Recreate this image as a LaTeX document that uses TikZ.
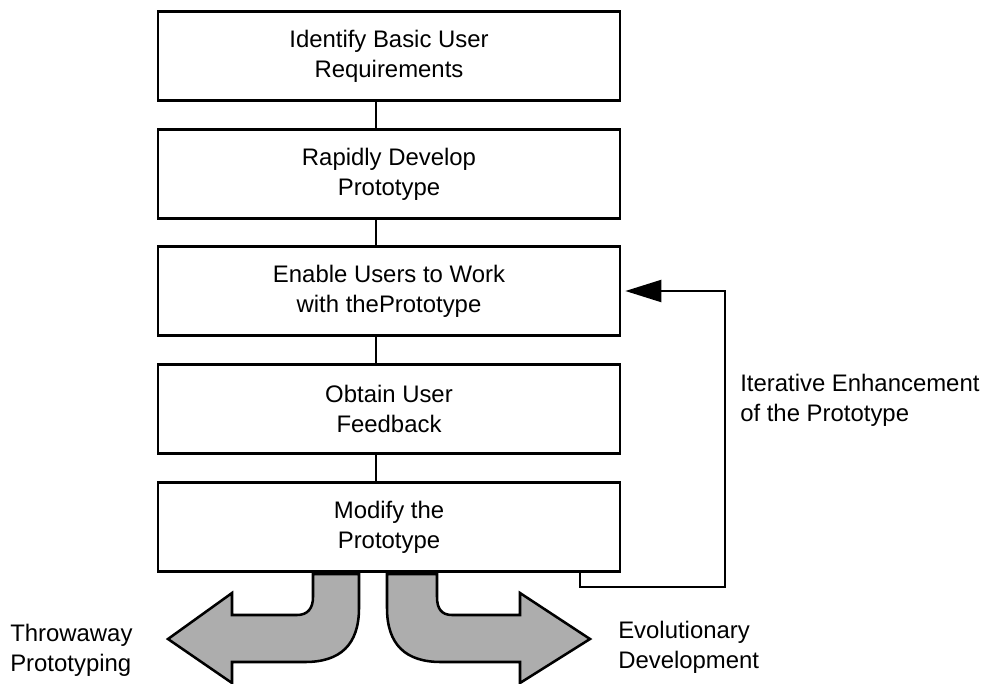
\documentclass[tikz,border=0pt]{standalone}
\usepackage{fontspec}
\setmainfont{Liberation Sans}
\usetikzlibrary{arrows.meta}

\tikzset{
  stepbox/.style={draw,line width=1.8pt,minimum width=11.55cm,minimum height=2.22cm,
                  align=center,inner sep=0pt},
  link/.style={line width=1.5pt},
  bigarrow/.style={draw,line width=1.8pt,fill=black!32,line join=miter},
  lbl/.style={align=left,inner sep=0pt}
}

\begin{document}
\begin{tikzpicture}[x=0.025cm,y=-0.025cm,font=\fontsize{17}{21.3}\selectfont]
  \useasboundingbox (0,0) rectangle (985,683);

  % the five steps
  \node[stepbox] (req)  at (389,56)  {Identify Basic User\\Requirements};
  \node[stepbox] (dev)  at (389,174) {Rapidly Develop\\Prototype};
  \node[stepbox] (work) at (389,291) {Enable Users to Work\\with thePrototype};
  \node[stepbox] (feed) at (389,409) {Obtain User\\Feedback};
  \node[stepbox] (mod)  at (389,527) {Modify the\\Prototype};

  \foreach \a/\b in {req/dev,dev/work,work/feed,feed/mod}
    \draw[link] ([xshift=-0.33cm]\a.south) -- ([xshift=-0.33cm]\b.north);

  % feedback loop
  \coordinate (loopstart) at ([xshift=4.78cm]mod.south);
  \coordinate (loopcorner) at (725,587);
  \draw[link,-{Triangle[length=0.9cm,width=0.55cm]},shorten >=0.1cm]
    (loopstart) |- (loopcorner) |- (work.east);
  \node[lbl,anchor=west] (iter) at (740,400) {Iterative Enhancement\\of the Prototype};

  % the two ways out
  \draw[bigarrow] (313,574) -- (359,574) -- (359,608)
    .. controls (359,645) and (340,662) .. (305,662) -- (232,662) -- (232,683)
    -- (168,639) -- (232,593) -- (232,615) -- (297,615)
    .. controls (308,615) and (313,608) .. (313,597) -- cycle;
  \draw[bigarrow] (437,574) -- (387,574) -- (387,608)
    .. controls (387,645) and (406,662) .. (441,662) -- (520,662) -- (520,683)
    -- (590,639) -- (520,593) -- (520,615) -- (452,615)
    .. controls (441,615) and (437,608) .. (437,597) -- cycle;

  \node[lbl,anchor=west] (throw) at (10,650) {Throwaway\\Prototyping};
  \node[lbl,anchor=west] (evo)   at (618,647) {Evolutionary\\Development};
\end{tikzpicture}
\end{document}
